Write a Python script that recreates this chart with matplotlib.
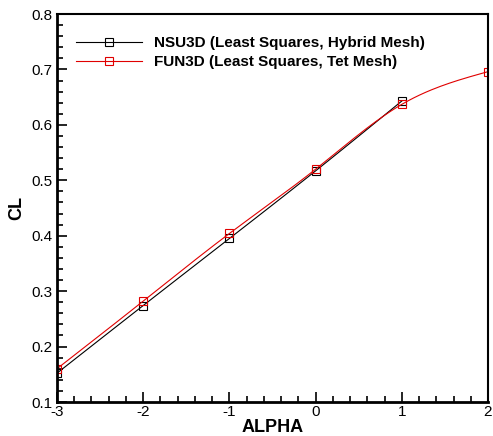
import matplotlib
matplotlib.use("Agg")
import matplotlib.pyplot as plt
import numpy as np
from matplotlib.ticker import MultipleLocator

alpha_nsu = [-3, -2, -1, 0, 1]
cl_nsu = [0.152, 0.274, 0.395, 0.517, 0.643]
alpha_fun = [-3, -2, -1, 0, 1, 2]
cl_fun = [0.160, 0.282, 0.404, 0.520, 0.637, 0.696]
labels = ["NSU3D (Least Squares, Hybrid Mesh)", "FUN3D (Least Squares, Tet Mesh)"]


def spline(x, y, n=30):
    # natural cubic spline, only for drawing a smooth line through the points
    x = np.asarray(x, float)
    y = np.asarray(y, float)
    k = len(x)
    h = np.diff(x)
    A = np.zeros((k, k))
    b = np.zeros(k)
    A[0, 0] = A[-1, -1] = 1
    for i in range(1, k - 1):
        A[i, i - 1] = h[i - 1]
        A[i, i] = 2 * (h[i - 1] + h[i])
        A[i, i + 1] = h[i]
        b[i] = 6 * ((y[i + 1] - y[i]) / h[i] - (y[i] - y[i - 1]) / h[i - 1])
    M = np.linalg.solve(A, b)
    xs, ys = [], []
    for i in range(k - 1):
        t = np.linspace(x[i], x[i + 1], n)
        a = x[i + 1] - t
        c = t - x[i]
        s = (M[i] * a**3 + M[i + 1] * c**3) / (6 * h[i]) \
            + (y[i] / h[i] - M[i] * h[i] / 6) * a \
            + (y[i + 1] / h[i] - M[i + 1] * h[i] / 6) * c
        xs.extend(t)
        ys.extend(s)
    return xs, ys


plt.rcParams['font.family'] = ['Liberation Sans', 'DejaVu Sans']
plt.rcParams['axes.unicode_minus'] = False

fig = plt.figure(figsize=(4.93, 4.36), dpi=100)
ax = fig.add_axes([57 / 493, 1 - 402 / 436, 431 / 493, 388 / 436])

for xs, ys, col, lab in [(alpha_nsu, cl_nsu, 'black', labels[0]),
                         (alpha_fun, cl_fun, '#e00000', labels[1])]:
    sx, sy = spline(xs, ys)
    ax.plot(sx, sy, color=col, lw=0.8)
    ax.plot(xs, ys, ls='none', marker='s', ms=6, mfc='none', mec=col, mew=0.8)
    ax.plot([], [], color=col, lw=0.8, marker='s', ms=6, mfc='none', mec=col,
            mew=0.8, label=lab)

ax.set_xlim(-3, 2)
ax.set_ylim(0.1, 0.8)
ax.xaxis.set_major_locator(MultipleLocator(1))
ax.xaxis.set_minor_locator(MultipleLocator(0.2))
ax.yaxis.set_major_locator(MultipleLocator(0.1))
ax.yaxis.set_minor_locator(MultipleLocator(0.02))
ax.tick_params(which='both', direction='in', labelsize=11, width=1.2)
ax.tick_params(which='major', length=7)
ax.tick_params(which='minor', length=4)
ax.tick_params(axis='x', pad=2)
for s in ['left', 'bottom']:
    ax.spines[s].set_linewidth(2)
for s in ['top', 'right']:
    ax.spines[s].set_linewidth(1.5)

ax.set_xlabel("ALPHA", fontsize=13, fontweight='bold', labelpad=0)
ax.set_ylabel("CL", fontsize=13, fontweight='bold', labelpad=4)

leg = ax.legend(loc='upper left', frameon=False, prop={'weight': 'bold', 'size': 11},
                handlelength=4.3, handletextpad=0.8, labelspacing=0.3,
                bbox_to_anchor=(0.02, 0.97), borderaxespad=0.3)

fig.savefig("out.png", dpi=100)
